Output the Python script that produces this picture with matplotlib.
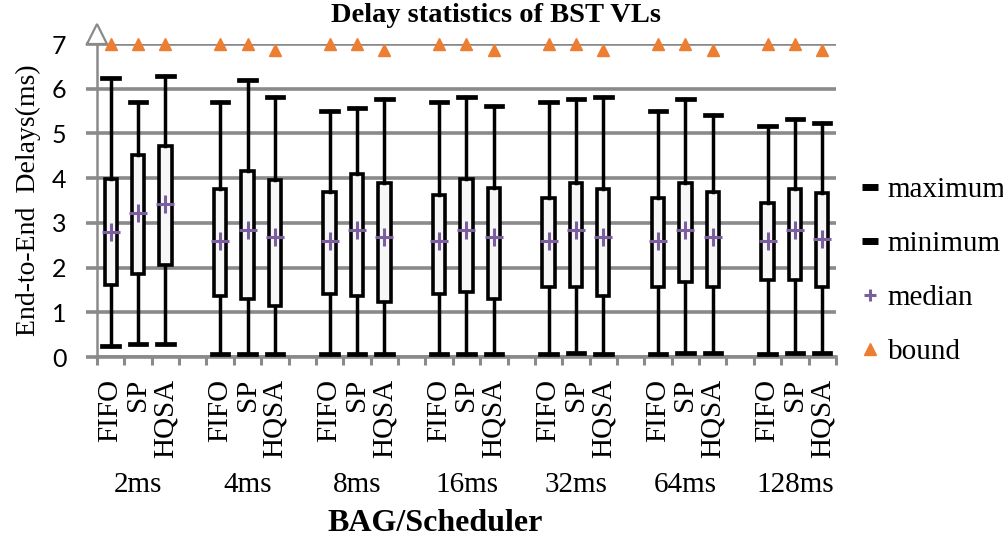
import numpy as np
import matplotlib.pyplot as plt
from matplotlib.lines import Line2D

bags = ['2ms', '4ms', '8ms', '16ms', '32ms', '64ms', '128ms']
schedulers = ['FIFO', 'SP', 'HQSA']

# values per BAG, order FIFO, SP, HQSA
maximum = [[6.23, 5.71, 6.29], [5.71, 6.20, 5.81], [5.51, 5.56, 5.76], [5.71, 5.81, 5.62],
           [5.71, 5.76, 5.81], [5.51, 5.76, 5.41], [5.17, 5.32, 5.23]]
upper = [[3.98, 4.52, 4.72], [3.75, 4.15, 3.95], [3.70, 4.09, 3.90], [3.62, 3.98, 3.79],
         [3.56, 3.90, 3.75], [3.55, 3.89, 3.70], [3.45, 3.75, 3.66]]
median = [[2.79, 3.23, 3.42], [2.59, 2.84, 2.69], [2.59, 2.84, 2.69], [2.59, 2.84, 2.69],
          [2.59, 2.84, 2.69], [2.59, 2.84, 2.69], [2.59, 2.84, 2.64]]
lower = [[1.61, 1.86, 2.06], [1.37, 1.29, 1.14], [1.42, 1.37, 1.22], [1.42, 1.46, 1.30],
         [1.57, 1.57, 1.37], [1.57, 1.68, 1.57], [1.72, 1.72, 1.57]]
minimum = [[0.25, 0.29, 0.29], [0.06, 0.06, 0.06], [0.06, 0.06, 0.06], [0.06, 0.06, 0.06],
           [0.06, 0.10, 0.06], [0.06, 0.10, 0.10], [0.06, 0.10, 0.10]]
bound = [[7.0, 7.0, 7.0], [7.0, 7.0, 6.87], [7.0, 7.0, 6.87], [7.0, 7.0, 6.87],
         [7.0, 7.0, 6.87], [7.0, 7.0, 6.87], [7.0, 7.0, 6.87]]

serif = 'Liberation Serif'
grey = '#8a8a8a'
orange = '#ED7D31'
purple = '#7B5E9E'

fig = plt.figure(figsize=(10.04, 5.42), dpi=100)
ax = fig.add_axes([0.0966, 0.3413, 0.736, 0.5775])

# slot positions: 3 schedulers per BAG plus one empty slot between groups
pos = []
stats = []
for g in range(len(bags)):
    for s in range(3):
        pos.append(g * 4 + s)
        stats.append(dict(whislo=minimum[g][s], q1=lower[g][s], med=median[g][s],
                          q3=upper[g][s], whishi=maximum[g][s]))
pos = np.array(pos)

ax.bxp(stats, positions=pos, widths=0.45, capwidths=0.6, showfliers=False,
       patch_artist=True,
       boxprops=dict(facecolor='#f7f7f7', edgecolor='black', linewidth=2.6),
       whiskerprops=dict(color='black', linewidth=2.5),
       capprops=dict(color='black', linewidth=3.4),
       medianprops=dict(linewidth=0), zorder=3)

med_flat = np.array(median).ravel()
bnd_flat = np.array(bound).ravel()
ax.plot(pos, med_flat, ls='none', marker='+', ms=13, mew=2.2, color=purple, zorder=5)
ax.plot(pos, bnd_flat, ls='none', marker='^', ms=8, color=orange, zorder=5, clip_on=False)

ax.set_xlim(-0.5, 26.5)
ax.set_ylim(0, 7)
ax.set_yticks(range(8))
ax.set_yticklabels([str(i) for i in range(8)], fontfamily='Lato', fontsize=18)
ax.grid(axis='y', color=grey, linewidth=2.6, zorder=0)
ax.set_axisbelow(True)
ax.tick_params(axis='y', length=8, width=2.6, color=grey, pad=14)

ax.set_xticks(np.arange(-0.5, 27, 1), minor=True)
ax.set_xticks(pos)
ax.set_xticklabels(schedulers * len(bags), rotation=90, fontfamily=serif, fontsize=21,
                   va='top', ha='center')
ax.tick_params(axis='x', which='major', length=0, pad=16)
ax.tick_params(axis='x', which='minor', length=6, width=2.2, color=grey)

for side in ['top', 'right']:
    ax.spines[side].set_visible(False)
ax.spines['left'].set_color(grey)
ax.spines['left'].set_linewidth(1.8)
ax.spines['bottom'].set_color(grey)
ax.spines['bottom'].set_linewidth(2.6)

# hollow arrow head on top of the y axis
ax.plot([-0.5], [7.22], marker='^', ms=15, mfc='white', mec=grey, mew=1.6,
        clip_on=False, zorder=6)

for g, b in enumerate(bags):
    ax.text(g * 4 + 1, -2.87, b, ha='center', va='center', fontfamily=serif, fontsize=21)

ax.set_ylabel('End-to-End  Delays(ms)', fontfamily=serif, fontsize=20, labelpad=8)
fig.text(0.494, 0.972, 'Delay statistics of BST VLs', ha='center', va='center',
         fontfamily=serif, fontweight='bold', fontsize=20.5)
fig.text(0.433, 0.035, 'BAG/Scheduler', ha='center', va='center',
         fontfamily=serif, fontweight='bold', fontsize=23)

handles = [Line2D([], [], ls='none', marker='_', ms=11, mew=5, color='black'),
           Line2D([], [], ls='none', marker='_', ms=11, mew=5, color='black'),
           Line2D([], [], ls='none', marker='+', ms=9, mew=2.2, color=purple),
           Line2D([], [], ls='none', marker='^', ms=8, color=orange)]
fig.legend(handles, ['maximum', 'minimum', 'median', 'bound'], loc='center left',
           bbox_to_anchor=(0.8436, 0.50), frameon=False, borderpad=0, handlelength=0.6,
           handletextpad=0.3, labelspacing=0.95, prop=dict(family=serif, size=21))

fig.savefig('out.png', dpi=100)
